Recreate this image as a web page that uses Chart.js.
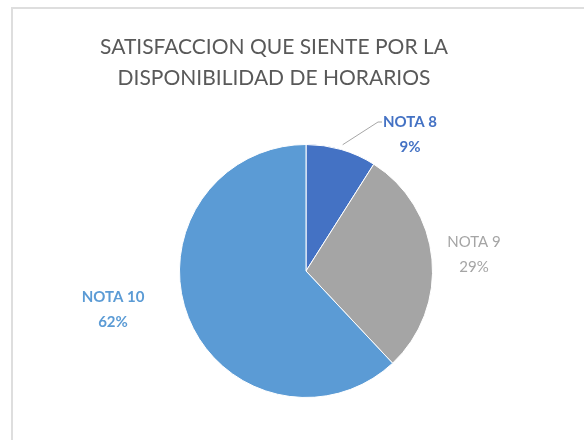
<!DOCTYPE html>
<html>
<head>
<meta charset="utf-8">
<script src="https://cdn.jsdelivr.net/npm/chart.js@4.4.1/dist/chart.umd.min.js"></script>
<style>
  html, body { margin: 0; padding: 0; background: #fff; }
  .wrap { position: relative; width: 584px; height: 440px; overflow: hidden; }
  .frame { position: absolute; left: 11px; top: 7px; width: 640px; height: 500px;
           border-left: 2px solid #dedede; border-top: 2px solid #dedede; }
  canvas { position: absolute; left: 0; top: 0; }
</style>
</head>
<body>
<div class="wrap">
  <div class="frame"></div>
  <canvas id="grafico" width="584" height="440"></canvas>
</div>
<script>
const categorias = ['NOTA 8', 'NOTA 9', 'NOTA 10'];
const porcentajes = [9, 29, 62];
const colores = ['#4472c4', '#a5a5a5', '#5b9bd5'];
const tituloLineas = ['SATISFACCION QUE SIENTE POR LA', 'DISPONIBILIDAD DE HORARIOS'];

// title drawn by hand so it can sit left of the pie centre
const tituloPlugin = {
  id: 'tituloManual',
  afterDraw(chart) {
    const ctx = chart.ctx;
    ctx.save();
    ctx.fillStyle = '#595959';
    ctx.font = '21px Lato, "Open Sans", sans-serif';
    ctx.textAlign = 'center';
    ctx.textBaseline = 'middle';
    tituloLineas.forEach((t, i) => ctx.fillText(t, 274, 47 + i * 31));
    ctx.restore();
  }
};

// category name + percentage next to every slice, with a leader line for the small one
const etiquetasPlugin = {
  id: 'etiquetas',
  afterDatasetsDraw(chart, args, opts) {
    const ctx = chart.ctx;
    const meta = chart.getDatasetMeta(0);
    ctx.save();
    meta.data.forEach((arc, i) => {
      const { x, y, outerRadius, startAngle, endAngle } = arc.getProps(['x', 'y', 'outerRadius', 'startAngle', 'endAngle'], true);
      const off = opts.offsets[i];
      const lx = x + off[0], ly = y + off[1];
      if (opts.leader[i]) {
        const mid = (startAngle + endAngle) / 2;
        const r = outerRadius + 5;
        ctx.strokeStyle = '#a6a6a6';
        ctx.lineWidth = 1;
        ctx.beginPath();
        ctx.moveTo(x + Math.cos(mid) * r, y + Math.sin(mid) * r);
        ctx.lineTo(lx - 32, ly - 12);
        ctx.lineTo(lx - 28, ly - 12);
        ctx.stroke();
      }
      ctx.fillStyle = colores[i];
      ctx.font = (opts.bold[i] ? 'bold ' : '') + '15px Lato, "Open Sans", sans-serif';
      ctx.textAlign = 'center';
      ctx.textBaseline = 'middle';
      ctx.fillText(categorias[i], lx, ly - 12);
      ctx.fillText(porcentajes[i] + '%', lx, ly + 13);
    });
    ctx.restore();
  }
};

new Chart(document.getElementById('grafico'), {
  type: 'pie',
  data: {
    labels: categorias,
    datasets: [{
      data: porcentajes,
      backgroundColor: colores,
      borderColor: '#ffffff',
      borderWidth: 1
    }]
  },
  options: {
    responsive: false,
    animation: false,
    layout: { padding: { left: 179, top: 144, right: 151, bottom: 42 } },
    plugins: {
      legend: { display: false },
      tooltip: { enabled: false },
      etiquetas: {
        offsets: [[104, -137], [168, -17], [-193, 38]],
        leader: [true, false, false],
        bold: [true, false, true]
      }
    }
  },
  plugins: [tituloPlugin, etiquetasPlugin]
});
</script>
</body>
</html>
